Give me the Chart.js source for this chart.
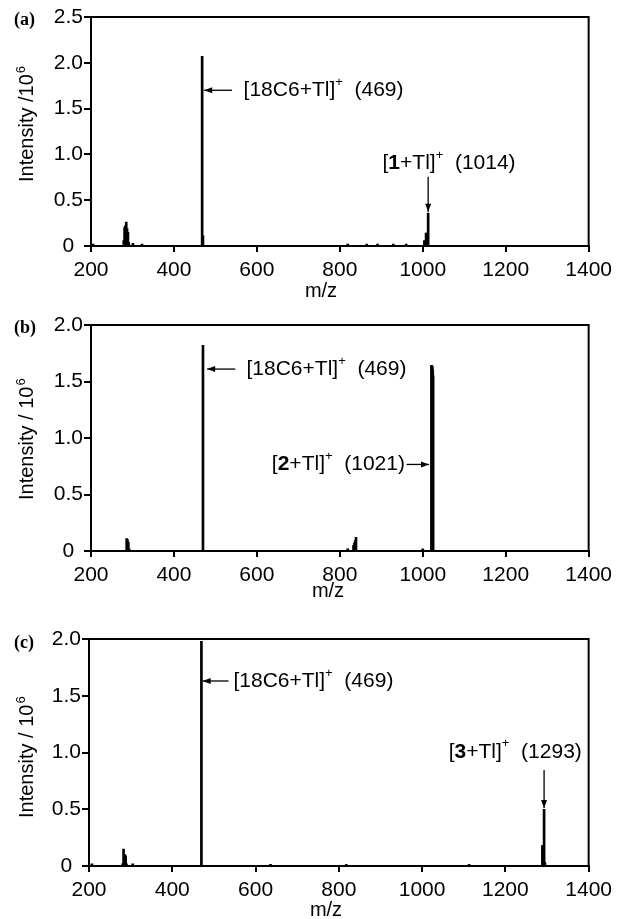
<!DOCTYPE html>
<html>
<head>
<meta charset="utf-8">
<script src="https://cdn.jsdelivr.net/npm/chart.js@4.4.0/dist/chart.umd.min.js"></script>
<style>
  html, body { margin: 0; padding: 0; background: #fff; }
  #wrap { position: relative; width: 618px; height: 919px; }
  #wrap canvas { position: absolute; left: 0; }
</style>
</head>
<body>
<div id="wrap">
  <canvas id="chartA" width="618" height="300" style="top:0"></canvas>
  <canvas id="chartB" width="618" height="310" style="top:300px"></canvas>
  <canvas id="chartC" width="618" height="309" style="top:610px"></canvas>
</div>
<script>
// shared x ticks (m/z)
var mzTicks = [200, 400, 600, 800, 1000, 1200, 1400];

// (a) 18C6 + compound 1
var mzA  = [205, 279, 281, 283, 285, 287, 289, 291, 301, 323, 468, 470, 819, 865, 891, 929, 960, 1004, 1008, 1010, 1013];
var intA = [0.02, 0.06, 0.20, 0.22, 0.26, 0.19, 0.15, 0.04, 0.03, 0.02, 2.07, 0.11, 0.02, 0.02, 0.02, 0.02, 0.02, 0.06, 0.14, 0.14, 0.36];
var yTicksA = [0, 0.5, 1.0, 1.5, 2.0, 2.5];

// (b) 18C6 + compound 2
var mzB  = [286, 288, 290, 292, 470, 819, 833, 835, 837, 839, 1000, 1021, 1022, 1023, 1024, 1025];
var intB = [0.11, 0.10, 0.08, 0.02, 1.82, 0.02, 0.05, 0.07, 0.09, 0.12, 0.02, 1.64, 1.64, 1.63, 1.60, 1.55];
var yTicksB = [0, 0.5, 1.0, 1.5, 2.0];

// (c) 18C6 + compound 3
var mzC  = [207, 281, 283, 286, 288, 290, 305, 470, 636, 818, 1113, 1289, 1290, 1293, 1295];
var intC = [0.02, 0.02, 0.15, 0.10, 0.09, 0.02, 0.02, 1.98, 0.015, 0.015, 0.015, 0.18, 0.18, 0.50, 0.03];
var yTicksC = [0, 0.5, 1.0, 1.5, 2.0];

var FONT = "'Liberation Sans', Arial, Helvetica, sans-serif";
var SERIF = "'Liberation Serif', 'Times New Roman', serif";
var TXT = 21;   // label text size
var SUP = 13;   // superscript size

function fmtY(v) { return v === 0 ? '0' : v.toFixed(1); }
function fmtX(v) { return String(v); }

function drawRich(ctx, parts, x, y, align) {
  var total = 0;
  parts.forEach(function(p) {
    ctx.font = (p.b ? 'bold ' : '') + (p.sup ? SUP : TXT) + 'px ' + FONT;
    total += ctx.measureText(p.t).width;
  });
  var cx = align === 'right' ? x - total : x;
  ctx.textAlign = 'left';
  ctx.textBaseline = 'middle';
  parts.forEach(function(p) {
    ctx.font = (p.b ? 'bold ' : '') + (p.sup ? SUP : TXT) + 'px ' + FONT;
    ctx.fillText(p.t, cx, p.sup ? y - 8 : y);
    cx += ctx.measureText(p.t).width;
  });
}

function drawArrow(ctx, x0, y0, x1, y1) {
  ctx.beginPath();
  ctx.moveTo(x0, y0);
  ctx.lineTo(x1, y1);
  ctx.lineWidth = 1.3;
  ctx.stroke();
  var a = Math.atan2(y1 - y0, x1 - x0), L = 8, W = 3;
  ctx.beginPath();
  ctx.moveTo(x1, y1);
  ctx.lineTo(x1 - L * Math.cos(a) + W * Math.sin(a), y1 - L * Math.sin(a) - W * Math.cos(a));
  ctx.lineTo(x1 - L * Math.cos(a) - W * Math.sin(a), y1 - L * Math.sin(a) + W * Math.cos(a));
  ctx.closePath();
  ctx.fill();
}

// frame, panel letter, axis titles, peak labels
function drawDeco(chart, deco) {
  var ctx = chart.ctx, a = chart.chartArea;
  var xs = chart.scales.x, ys = chart.scales.y;
  ctx.save();
  ctx.strokeStyle = '#000';
  ctx.fillStyle = '#000';

  ctx.lineWidth = 2;
  ctx.beginPath();
  ctx.moveTo(a.left, a.top);
  ctx.lineTo(a.right, a.top);
  ctx.lineTo(a.right, a.bottom);
  ctx.stroke();

  ctx.font = 'bold 18px ' + SERIF;
  ctx.textAlign = 'left';
  ctx.textBaseline = 'middle';
  ctx.fillText(deco.letter, 14, deco.letterY);

  // y title, rotated, with superscript 6
  ctx.save();
  ctx.translate(33, deco.yTitleStart);
  ctx.rotate(-Math.PI / 2);
  ctx.font = '20px ' + FONT;
  ctx.textBaseline = 'alphabetic';
  ctx.fillText(deco.yTitle, 0, 0);
  var w = ctx.measureText(deco.yTitle).width;
  ctx.font = SUP + 'px ' + FONT;
  ctx.fillText('6', w + 1, -8);
  ctx.restore();

  ctx.font = '20px ' + FONT;
  ctx.textAlign = 'center';
  ctx.textBaseline = 'middle';
  ctx.fillText('m/z', deco.xTitleX, deco.xTitleY);

  deco.notes.forEach(function(n) {
    drawRich(ctx, n.parts, xs.getPixelForValue(n.x), ys.getPixelForValue(n.y), n.align);
    var r = n.arrow;
    drawArrow(ctx, xs.getPixelForValue(r[0]), ys.getPixelForValue(r[1]),
                   xs.getPixelForValue(r[2]), ys.getPixelForValue(r[3]));
  });
  ctx.restore();
}

function buildChart(id, mz, inten, yTicks, box, deco) {
  var el = document.getElementById(id);
  var H = el.height;
  var yMax = yTicks[yTicks.length - 1];
  return new Chart(el.getContext('2d'), {
    type: 'bar',
    data: {
      datasets: [{
        data: mz.map(function(m, i) { return { x: m, y: inten[i] }; }),
        backgroundColor: '#000',
        borderWidth: 0,
        barThickness: 2
      }]
    },
    options: {
      responsive: false,
      animation: false,
      layout: { padding: { top: box.top, right: 618 - box.right, left: 0, bottom: 0 } },
      plugins: { legend: { display: false }, tooltip: { enabled: false } },
      scales: {
        x: {
          type: 'linear',
          min: 200,
          max: 1400,
          offset: false,
          afterBuildTicks: function(s) { s.ticks = mzTicks.map(function(v) { return { value: v }; }); },
          ticks: { color: '#000', font: { family: FONT, size: 21 }, padding: 6, maxRotation: 0, autoSkip: false, callback: fmtX },
          grid: { offset: false, drawOnChartArea: false, drawTicks: true, tickLength: 6, color: '#000', lineWidth: 2 },
          border: { display: true, color: '#000', width: 2 },
          afterFit: function(s) { s.height = H - box.bottom; }
        },
        y: {
          min: 0,
          max: yMax,
          afterBuildTicks: function(s) { s.ticks = yTicks.map(function(v) { return { value: v }; }); },
          ticks: { color: '#000', font: { family: FONT, size: 21 }, padding: 1, crossAlign: 'center', callback: fmtY },
          grid: { drawOnChartArea: false, drawTicks: true, tickLength: 7, color: '#000', lineWidth: 2 },
          border: { display: true, color: '#000', width: 2 },
          afterFit: function(s) { s.width = box.left; }
        }
      }
    },
    plugins: [{ id: 'deco', afterDraw: function(c) { drawDeco(c, deco); } }]
  });
}

var sup = { t: '+', sup: true };

buildChart('chartA', mzA, intA, yTicksA, { left: 91, right: 593, top: 17, bottom: 246 }, {
  letter: '(a)', letterY: 20, yTitle: 'Intensity /10', yTitleStart: 182, xTitleX: 321, xTitleY: 291,
  notes: [
    { parts: [{ t: '[18C6+Tl]' }, sup, { t: '  (469)' }], x: 568, y: 1.70, align: 'left', arrow: [540, 1.70, 473, 1.70] },
    { parts: [{ t: '[' }, { t: '1', b: true }, { t: '+Tl]' }, sup, { t: '  (1014)' }], x: 903, y: 0.906, align: 'left', arrow: [1013, 0.757, 1013, 0.374] }
  ]
});

buildChart('chartB', mzB, intB, yTicksB, { left: 91, right: 594, top: 25, bottom: 251 }, {
  letter: '(b)', letterY: 28, yTitle: 'Intensity / 10', yTitleStart: 200, xTitleX: 328, xTitleY: 291,
  notes: [
    { parts: [{ t: '[18C6+Tl]' }, sup, { t: '  (469)' }], x: 575, y: 1.61, align: 'left', arrow: [548, 1.61, 480, 1.61] },
    { parts: [{ t: '[' }, { t: '2', b: true }, { t: '+Tl]' }, sup, { t: '  (1021)' }], x: 957, y: 0.766, align: 'right', arrow: [961, 0.766, 1015, 0.766] }
  ]
});

buildChart('chartC', mzC, intC, yTicksC, { left: 89, right: 593, top: 29, bottom: 256 }, {
  letter: '(c)', letterY: 33, yTitle: 'Intensity / 10', yTitleStart: 208, xTitleX: 326, xTitleY: 300,
  notes: [
    { parts: [{ t: '[18C6+Tl]' }, sup, { t: '  (469)' }], x: 547, y: 1.63, align: 'left', arrow: [535, 1.63, 473, 1.63] },
    { parts: [{ t: '[' }, { t: '3', b: true }, { t: '+Tl]' }, sup, { t: '  (1293)' }], x: 1064, y: 1.007, align: 'left', arrow: [1293, 0.845, 1293, 0.51] }
  ]
});
</script>
</body>
</html>
